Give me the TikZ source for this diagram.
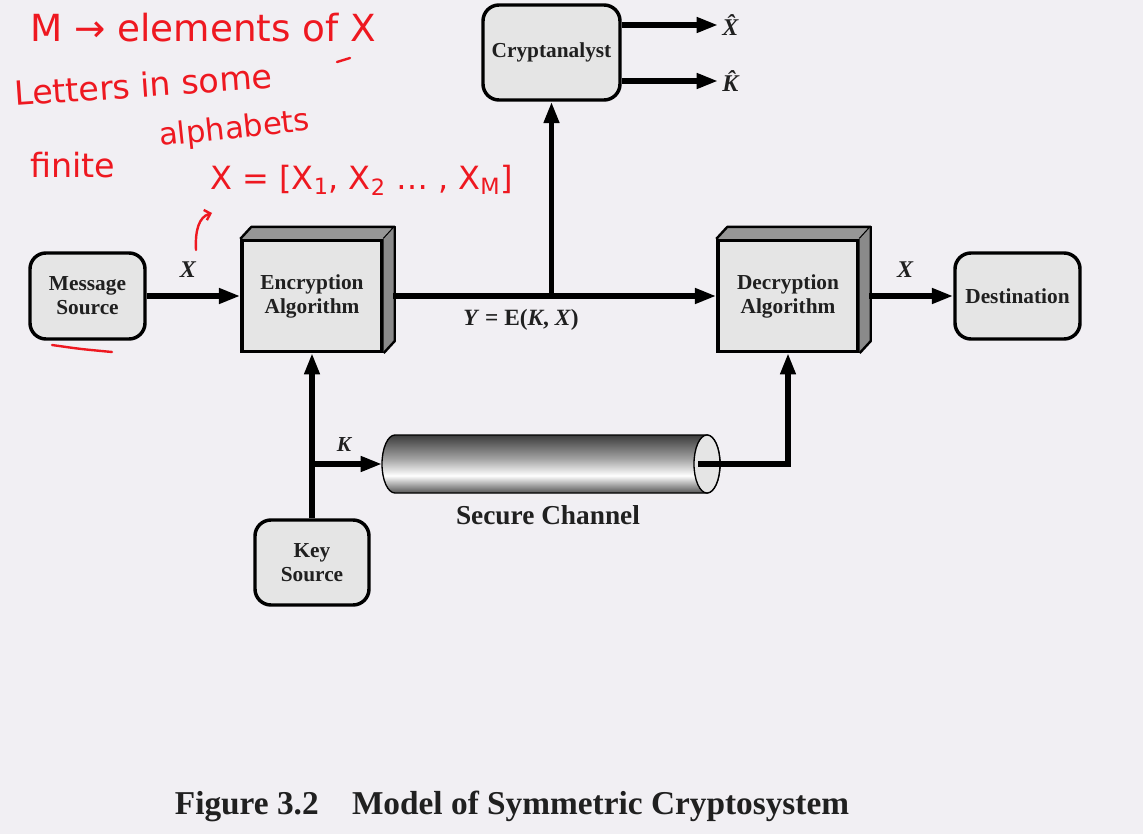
\documentclass[tikz,border=0pt]{standalone}
\usepackage{fontspec}
\setmainfont{Liberation Serif}
\newfontfamily\handfont{DejaVu Sans}
\usetikzlibrary{arrows.meta}
\definecolor{bg}{RGB}{241,239,243}
\definecolor{boxfill}{RGB}{229,229,229}
\definecolor{sidefill}{RGB}{138,138,138}
\definecolor{topfill}{RGB}{150,150,150}
\definecolor{ink}{RGB}{32,32,32}
\definecolor{pen}{RGB}{238,24,32}
\definecolor{tubeA}{RGB}{60,60,60}
\definecolor{tubeB}{RGB}{85,85,85}
\definecolor{tubeM}{RGB}{160,160,160}
\pgfdeclareverticalshading{tube}{100bp}{color(0bp)=(tubeB); color(25bp)=(tubeB); color(40bp)=(white); color(55bp)=(tubeM); color(75bp)=(tubeA); color(100bp)=(tubeA)}
\tikzset{
  boxtext/.style={font=\bfseries\fontsize{16}{18}\selectfont, text=ink, align=center},
  roundbox/.style={boxtext, draw=black, line width=2.6pt, fill=boxfill, rounded corners=12pt, inner sep=0pt},
  algbox/.style={boxtext, draw=black, line width=2.6pt, fill=boxfill, inner sep=0pt, minimum width=105pt, minimum height=83pt},
  face/.style={draw=black, line width=1.8pt, line join=round},
  conn/.style={draw=black, line width=3.9pt},
  arr/.style={conn, -{Triangle[length=16pt,width=11pt]}},
  varlabel/.style={font=\bfseries\itshape\fontsize{18}{20}\selectfont, text=ink, inner sep=0pt},
  hand/.style={text=pen, font=\handfont\fontsize{25}{28}\selectfont, inner sep=0pt},
  penline/.style={draw=pen, line width=1.8pt, line cap=round}
}
\begin{document}
\begin{tikzpicture}[x=0.75pt, y=-0.75pt]
\useasboundingbox (0,0) rectangle (1143,834);
\fill[bg] (0,0) rectangle (1143,834);

% boxes
\node[roundbox, minimum width=86.25pt, minimum height=64.5pt] (msg) at (87.5,296) {Message\\Source};
\node[roundbox, minimum width=102.75pt, minimum height=71.25pt] (crypt) at (551.5,52.5) {Cryptanalyst};
\node[roundbox, minimum width=93.75pt, minimum height=64.5pt] (dest) at (1017.5,296) {Destination};
\node[roundbox, minimum width=85.5pt, minimum height=63.75pt] (key) at (312,562.5) {Key\\Source};

% 3D algorithm boxes
\node[algbox] (enc) at (312,296) {Encryption\\Algorithm};
\fill[topfill] (enc.north west) -- ++(11,-12) -- ([shift={(8.25pt,9pt)}]enc.north east) -- (enc.north east) -- cycle;
\draw[face] (enc.north west) -- ++(11,-12) -- ([shift={(8.25pt,9pt)}]enc.north east) -- (enc.north east);
\fill[sidefill] (enc.north east) -- ([shift={(8.25pt,9pt)}]enc.north east) -- ([shift={(8.25pt,9pt)}]enc.south east) -- (enc.south east) -- cycle;
\draw[face] ([shift={(8.25pt,9pt)}]enc.north east) -- ([shift={(8.25pt,9pt)}]enc.south east) -- (enc.south east);

\node[algbox] (dec) at (788,296) {Decryption\\Algorithm};
\fill[topfill] (dec.north west) -- ++(11,-12) -- ([shift={(8.25pt,9pt)}]dec.north east) -- (dec.north east) -- cycle;
\draw[face] (dec.north west) -- ++(11,-12) -- ([shift={(8.25pt,9pt)}]dec.north east) -- (dec.north east);
\fill[sidefill] (dec.north east) -- ([shift={(8.25pt,9pt)}]dec.north east) -- ([shift={(8.25pt,9pt)}]dec.south east) -- (dec.south east) -- cycle;
\draw[face] ([shift={(8.25pt,9pt)}]dec.north east) -- ([shift={(8.25pt,9pt)}]dec.south east) -- (dec.south east);

% secure channel tube
\shade[shading=tube, draw=black, line width=1pt] (395,435) -- (707,435) arc[start angle=90, end angle=-90, x radius=9.75pt, y radius=21.75pt] -- (395,493) arc[start angle=270, end angle=90, x radius=9.75pt, y radius=21.75pt] -- cycle;
\draw[fill=boxfill, line width=1pt] (707,464) ellipse [x radius=9.75pt, y radius=21.75pt];
\coordinate (tubeL) at (382,464);
\coordinate (tubeR) at (698,464);
\node[font=\bfseries\fontsize{20.5}{22}\selectfont, text=ink] (sc) at (548,515) {Secure Channel};

% connectors
\draw[arr] (msg) -- (enc);
\node[varlabel] (xin) at (188,270) {X};
\coordinate (encout) at ([xshift=7pt]enc.east);
\draw[arr] (encout) -- (dec.west);
\coordinate (yj) at (crypt.south |- enc.east);
\draw[arr] (yj) -- (crypt.south);
\node[font=\bfseries\fontsize{17.5}{20}\selectfont, text=ink, inner sep=0pt] (ylab) at (521,320) {\textit{Y} = E(\textit{K}, \textit{X})};

\coordinate (xh) at (718,25);
\coordinate (kh) at (718,81);
\draw[arr] (crypt.east |- xh) -- (xh);
\draw[arr] (crypt.east |- kh) -- (kh);
\node[varlabel, anchor=west] (xhl) at (722,25) {\^X};
\node[varlabel, anchor=west] (khl) at (722,81) {\^K};

\coordinate (decout) at ([xshift=7pt]dec.east);
\draw[arr] (decout) -- (dest.west);
\node[varlabel] (xout) at (905,270) {X};

\draw[arr] (key.north) -- (enc.south);
\coordinate (kj) at (key.north |- tubeL);
\draw[arr] (kj) -- (tubeL);
\node[varlabel, font=\bfseries\itshape\fontsize{16}{18}\selectfont] (klab) at (344,445) {K};
\draw[arr] (tubeR) -| (dec.south);

% caption
\node[font=\bfseries\fontsize{25}{28}\selectfont, text=ink] (cap) at (512,806) {Figure 3.2\hspace{1em}Model of Symmetric Cryptosystem};

% handwritten annotations
\node[hand, anchor=base west, font=\handfont\fontsize{28}{30}\selectfont] (h1) at (30,42) {M → elements of X};
\node[hand, anchor=base west, rotate=4] (h2) at (15,106) {Letters in some};
\node[hand, anchor=base west] (h3) at (30,178) {finite};
\node[hand, anchor=base west, rotate=6, font=\handfont\fontsize{23}{26}\selectfont] (h4) at (160,146) {alphabets};
\node[hand, anchor=base west, font=\handfont\fontsize{24}{26}\selectfont] (h5) at (210,190) {X = [X\textsubscript{1}, X\textsubscript{2} … , X\textsubscript{M}]};
\draw[penline] (337,62) .. controls (343,60) .. (350,58);
\draw[penline, -{Straight Barb[length=4pt]}] (196,250) .. controls (195,230) and (199,217) .. (212,213);
\draw[penline] (52,345) .. controls (80,349) .. (112,352);
\end{tikzpicture}
\end{document}
